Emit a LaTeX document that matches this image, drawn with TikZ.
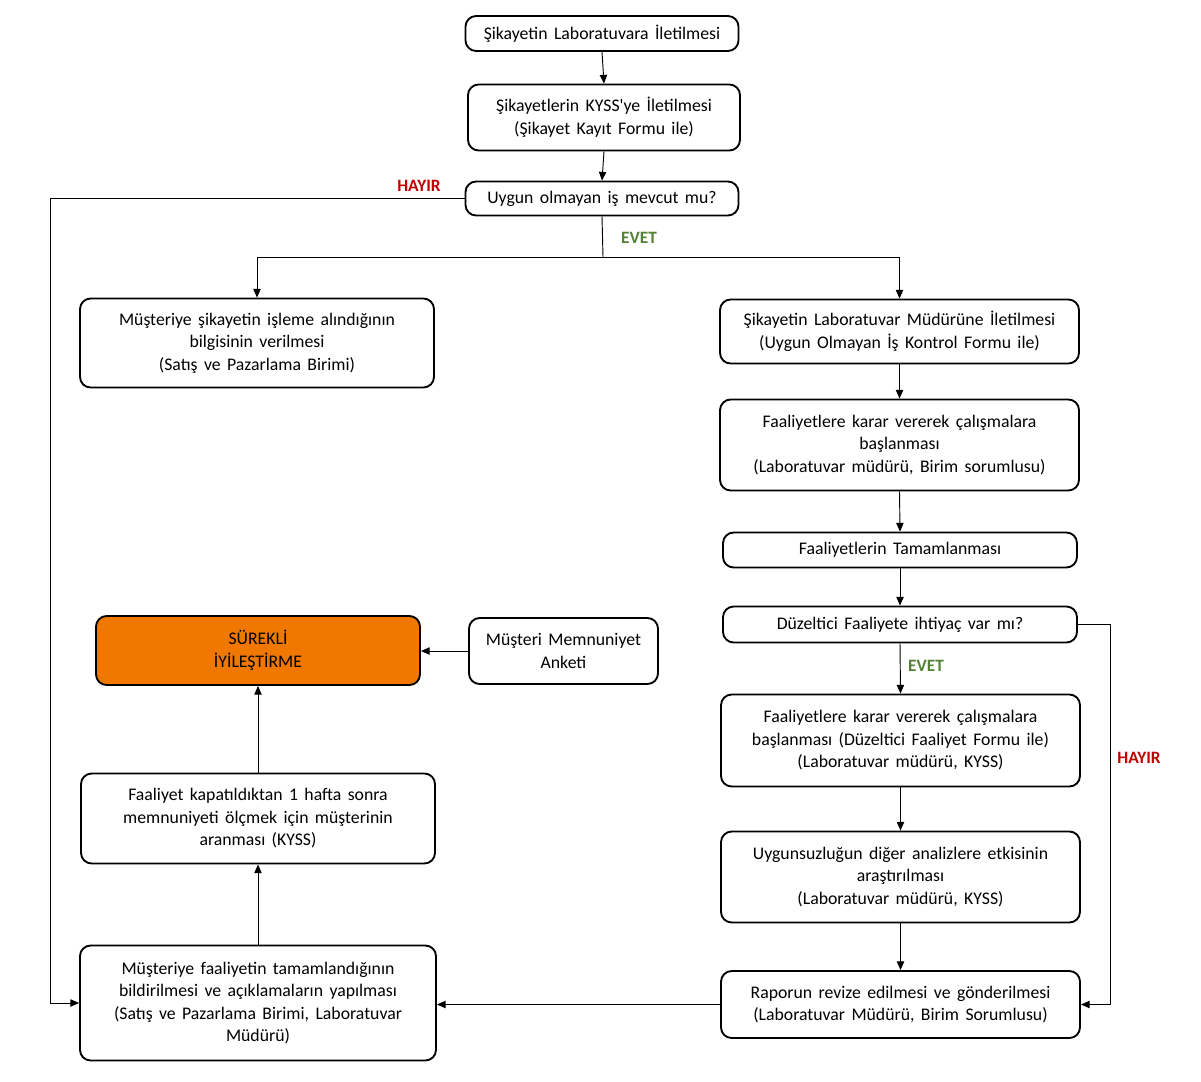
\documentclass[tikz,border=0pt]{standalone}
\usepackage{fontspec}
\setmainfont{Carlito}[WordSpace=1.6]
\usetikzlibrary{arrows.meta}
\definecolor{hayirred}{HTML}{C00000}
\definecolor{evetgreen}{HTML}{538135}
\definecolor{orangefill}{HTML}{F07800}
\tikzset{
  bx/.style={draw, line width=1.4pt, rounded corners=8pt, align=center, inner sep=0pt,
    font=\fontsize{13.3}{16.9}\selectfont},
  conn/.style={draw, line width=0.7pt, -{Triangle[length=6.5pt,width=5.5pt]}},
  plainline/.style={draw, line width=0.7pt},
  hayir/.style={text=hayirred, font=\bfseries\fontsize{13}{14}\selectfont},
  evet/.style={text=evetgreen, font=\bfseries\fontsize{13}{14}\selectfont}
}
\begin{document}
\begin{tikzpicture}[x=0.75pt, y=-0.75pt]
\useasboundingbox (0,0) rectangle (1201,1081);
\node[bx, minimum width=204.75pt, minimum height=26.25pt] (b1) at (602,33.5) {Şikayetin Laboratuvara İletilmesi};
\node[bx, minimum width=204pt, minimum height=49.5pt] (b2) at (604,117.5) {Şikayetlerin KYSS\textquotesingle ye İletilmesi\\(Şikayet Kayıt Formu ile)};
\node[bx, minimum width=204.75pt, minimum height=25.5pt] (b3) at (602,198.5) {Uygun olmayan iş mevcut mu?};
\node[bx, minimum width=265.5pt, minimum height=66.75pt] (b4) at (257,343) {Müşteriye şikayetin işleme alındığının\\bilgisinin verilmesi\\(Satış ve Pazarlama Birimi)};
\node[bx, minimum width=269.25pt, minimum height=48pt] (b5) at (899.5,331.5) {Şikayetin Laboratuvar Müdürüne İletilmesi\\(Uygun Olmayan İş Kontrol Formu ile)};
\node[bx, minimum width=269.25pt, minimum height=68.25pt] (b6) at (899.5,445) {Faaliyetlere karar vererek çalışmalara\\başlanması\\(Laboratuvar müdürü, Birim sorumlusu)};
\node[bx, minimum width=265.5pt, minimum height=26.25pt] (b7) at (900,550) {Faaliyetlerin Tamamlanması};
\node[bx, minimum width=265.5pt, minimum height=27pt] (b8) at (900,624.5) {Düzeltici Faaliyete ihtiyaç var mı?};
\node[bx, minimum width=269.25pt, minimum height=69pt] (b9) at (900.5,740.5) {Faaliyetlere karar vererek çalışmalara\\başlanması (Düzeltici Faaliyet Formu ile)\\(Laboratuvar müdürü, KYSS)};
\node[bx, minimum width=269.25pt, minimum height=68.25pt] (b10) at (900.5,877) {Uygunsuzluğun diğer analizlere etkisinin\\araştırılması\\(Laboratuvar müdürü, KYSS)};
\node[bx, minimum width=269.25pt, minimum height=50.25pt] (b11) at (900.5,1004.5) {Raporun revize edilmesi ve gönderilmesi\\(Laboratuvar Müdürü, Birim Sorumlusu)};
\node[bx, minimum width=267pt, minimum height=86.25pt] (b12) at (258,1003) {Müşteriye faaliyetin tamamlandığının\\bildirilmesi ve açıklamaların yapılması\\(Satış ve Pazarlama Birimi, Laboratuvar\\Müdürü)};
\node[bx, minimum width=265.5pt, minimum height=67.5pt] (b13) at (258,818.5) {Faaliyet kapatıldıktan 1 hafta sonra\\memnuniyeti ölçmek için müşterinin\\aranması (KYSS)};
\node[bx, fill=orangefill, minimum width=243pt, minimum height=51.75pt] (b14) at (258,650.5) {SÜREKLİ\\İYİLEŞTİRME};
\node[bx, minimum width=141.75pt, minimum height=49.5pt] (b15) at (563.5,651) {Müşteri Memnuniyet\\Anketi};
% connectors
\draw[conn] (b1.south) -- (b2.north);
\draw[conn] (b2.south) -- (b3.north);
\coordinate (hl) at (50,198.5);
\draw[conn] (b3.west) -- (hl) -- (hl |- b12.west) -- (b12.west);
\node[hayir] (lh1) at (419,186) {HAYIR};
\coordinate (ev) at (603,257);
\draw[plainline] (b3.south) -- (ev);
\draw[conn] (ev) -- (b4.north |- ev) -- (b4.north);
\draw[conn] (ev) -- (b5.north |- ev) -- (b5.north);
\node[evet] (le1) at (639,238) {EVET};
\draw[conn] (b5.south) -- (b6.north);
\draw[conn] (b6.south) -- (b7.north);
\draw[conn] (b7.south) -- (b8.north);
\draw[conn] (b8.south) -- (b9.north);
\node[evet] (le2) at (926,666) {EVET};
\coordinate (hr) at (1110,624.5);
\draw[conn] (b8.east) -- (hr) -- (hr |- b11.east) -- (b11.east);
\node[hayir] (lh2) at (1139,758) {HAYIR};
\draw[conn] (b9.south) -- (b10.north);
\draw[conn] (b10.south) -- (b11.north);
\draw[conn] (b11.west) -- (b12.east |- b11.west);
\draw[conn] (b12.north) -- (b13.south);
\draw[conn] (b13.north) -- (b14.south);
\draw[conn] (b15.west) -- (b14.east |- b15.west);
\end{tikzpicture}
\end{document}
